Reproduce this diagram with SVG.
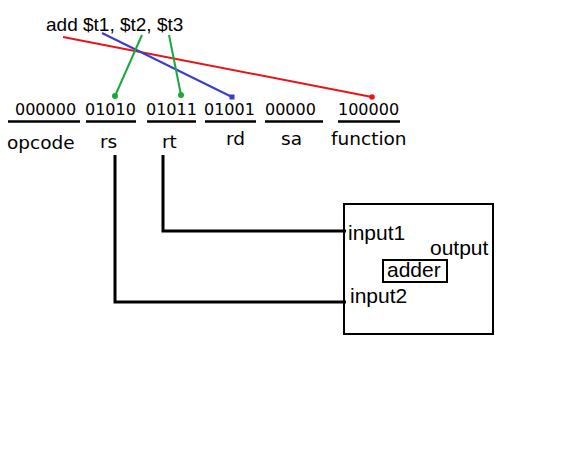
<svg xmlns="http://www.w3.org/2000/svg" width="582" height="456" viewBox="0 0 582 456">
  <style>
    .bits { font-family: "DejaVu Sans", sans-serif; font-size: 16px; fill: #000; }
    .field { font-family: "DejaVu Sans", sans-serif; font-size: 18.5px; fill: #000; }
    .label { font-family: "Liberation Sans", Arial, sans-serif; font-size: 19px; fill: #000; }
    .port { font-family: "Liberation Sans", Arial, sans-serif; font-size: 21px; fill: #000; }
    .rule { stroke: #000; stroke-width: 2.5; }
    .wire { fill: none; stroke: #000; stroke-width: 3; }
    .box { fill: none; stroke: #000; stroke-width: 2; }
  </style>
  <rect width="582" height="456" fill="#fff"/>

  <g id="instruction">
    <text class="label" x="46" y="31">add $t1, $t2, $t3</text>
  </g>

  <g id="field-opcode">
    <text class="bits" x="15" y="115">000000</text>
    <line class="rule" x1="8" y1="121.5" x2="80" y2="121.5"/>
    <text class="field" x="7" y="149">opcode</text>
  </g>
  <g id="field-rs">
    <text class="bits" x="85" y="115">01010</text>
    <line class="rule" x1="86" y1="121.5" x2="136" y2="121.5"/>
    <text class="field" x="100" y="148">rs</text>
  </g>
  <g id="field-rt">
    <text class="bits" x="146" y="115">01011</text>
    <line class="rule" x1="147" y1="121.5" x2="196" y2="121.5"/>
    <text class="field" x="162" y="148">rt</text>
  </g>
  <g id="field-rd">
    <text class="bits" x="204" y="115">01001</text>
    <line class="rule" x1="205" y1="121.5" x2="256" y2="121.5"/>
    <text class="field" x="226" y="145">rd</text>
  </g>
  <g id="field-sa">
    <text class="bits" x="265" y="115">00000</text>
    <line class="rule" x1="265" y1="121.5" x2="323" y2="121.5"/>
    <text class="field" x="281" y="145">sa</text>
  </g>
  <g id="field-function">
    <text class="bits" x="338" y="115">100000</text>
    <line class="rule" x1="338" y1="121.5" x2="400" y2="121.5"/>
    <text class="field" x="331" y="145">function</text>
  </g>

  <g id="adder-unit">
    <rect class="box" x="344" y="204" width="149" height="130"/>
    <text class="port" x="348" y="240">input1</text>
    <text class="port" x="430" y="255">output</text>
    <rect class="box" x="383" y="260" width="64" height="22"/>
    <text class="port" x="387" y="277">adder</text>
    <text class="port" x="350" y="303">input2</text>
  </g>

  <g id="connectors">
    <!-- register operands mapped onto instruction fields -->
    <line x1="63" y1="37" x2="372" y2="97" stroke="#e8141a" stroke-width="2"/>
    <circle cx="372" cy="97" r="2.8" fill="#e8141a"/>
    <line x1="102" y1="33" x2="232" y2="97" stroke="#3a3ec8" stroke-width="2"/>
    <rect x="229.5" y="94.5" width="5" height="5" fill="#3a3ec8"/>
    <line x1="142" y1="35" x2="115" y2="96" stroke="#1aa83a" stroke-width="2"/>
    <circle cx="115" cy="96" r="3" fill="#1aa83a"/>
    <line x1="169" y1="35" x2="181" y2="95" stroke="#1aa83a" stroke-width="2"/>
    <circle cx="181" cy="95" r="3" fill="#1aa83a"/>
    <!-- source fields wired into the adder -->
    <polyline class="wire" points="163,155 163,231 346,231"/>
    <polyline class="wire" points="115,155 115,302 346,302"/>
  </g>
</svg>
